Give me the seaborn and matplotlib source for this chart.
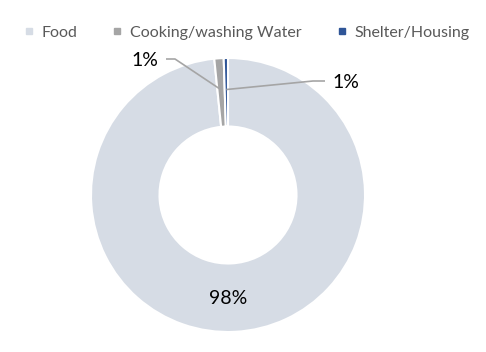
import numpy as np
import matplotlib
matplotlib.use('Agg')
import matplotlib.pyplot as plt
import seaborn as sns
from matplotlib.lines import Line2D

# ---- data ----
categories = ['Food', 'Cooking/washing Water', 'Shelter/Housing']
shares = [98.4, 1.1, 0.5]
labels = ['98%', '1%', '1%']
colors = ['#D6DCE5', '#A5A5A5', '#2F5597']

sns.set_theme(style='white')
plt.rcParams['font.family'] = ['Lato', 'DejaVu Sans']

W, H = 486, 352
fig = plt.figure(figsize=(W / 100, H / 100), dpi=100)

# pie centre / radius in pixels
cx, cy, R = 228, 195, 137
ax = fig.add_axes([(cx - R) / W, (H - cy - R) / H, 2 * R / W, 2 * R / H])

wedges, _ = ax.pie(shares, colors=colors, startangle=90, counterclock=False,
                   radius=1.0, wedgeprops=dict(width=0.5, edgecolor='white', linewidth=1.5))
ax.set_xlim(-1, 1)
ax.set_ylim(-1, 1)
ax.set_aspect('equal')
ax.axis('off')


def px(x, y):
    # pixel position -> data coords of the pie axes
    return (x - cx) / R, (cy - y) / R


def mid(w, r):
    a = np.deg2rad((w.theta1 + w.theta2) / 2)
    return r * np.cos(a), r * np.sin(a)


lab_kw = dict(fontsize=14, color='black', va='center')
line_kw = dict(color='#A5A5A5', lw=1.2, solid_capstyle='butt')

# Food label inside the ring
ax.text(*px(cx, 298), labels[0], ha='center', **lab_kw)

# Cooking/washing Water label with leader (left)
tx, ty = px(158, 61)
ex, ey = px(175, 59)
ax_, ay_ = mid(wedges[1], 0.77)
ax.plot([px(166, 59)[0], ex, ax_], [px(166, 59)[1], ey, ay_], **line_kw)
ax.text(tx, ty, labels[1], ha='right', **lab_kw)

# Shelter/Housing label with leader (right)
bx, by = mid(wedges[2], 0.77)
ax.plot([bx, px(313, 81)[0], px(325, 81)[0]], [by, px(313, 81)[1], px(325, 81)[1]], **line_kw)
ax.text(*px(332, 82), labels[2], ha='left', **lab_kw)

# legend across the top
handles = [Line2D([0], [0], marker='s', linestyle='', markersize=5,
                  markerfacecolor=c, markeredgecolor=c) for c in colors]
fig.legend(handles, categories, loc='center', bbox_to_anchor=(245 / W, 1 - 33 / H),
           ncol=3, frameon=False, fontsize=11.5, labelcolor='#595959',
           handletextpad=0.3, columnspacing=2.0, handlelength=1.0)

fig.savefig('out.png', dpi=100)
